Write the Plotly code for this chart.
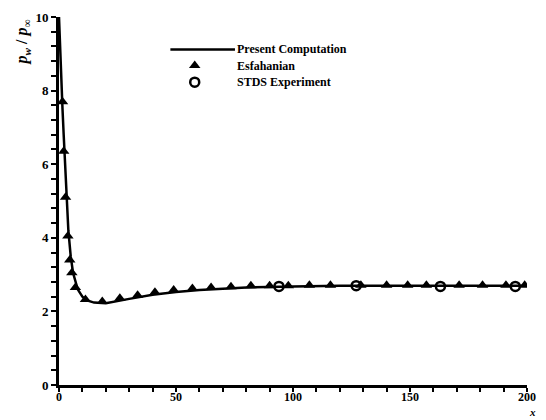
import plotly.graph_objects as go

# Present computation: wall pressure ratio along the surface
comp_x = [0, 0.5, 1, 1.5, 2, 3, 4, 5, 6, 8, 10, 12, 15, 20, 25, 30, 40, 50, 60, 70, 80, 100, 120, 150, 200]
comp_y = [10, 9.0, 8.2, 7.5, 6.8, 5.3, 4.2, 3.5, 3.05, 2.6, 2.4, 2.3, 2.24, 2.22, 2.27, 2.34, 2.45, 2.53, 2.58, 2.62, 2.65, 2.68, 2.7, 2.7, 2.7]

# Esfahanian
esf_x = [1.5, 2.0, 2.8, 3.8, 4.6, 5.5, 7.0, 11.3, 18.5, 26, 33.6, 41, 49, 57, 65, 73.5, 82, 90, 98, 107, 116, 129, 140, 149, 157, 171, 181, 191, 199]
esf_y = [7.7, 6.35, 5.1, 4.05, 3.4, 3.05, 2.65, 2.32, 2.27, 2.36, 2.44, 2.52, 2.58, 2.62, 2.65, 2.67, 2.7, 2.7, 2.7, 2.71, 2.71, 2.71, 2.71, 2.71, 2.71, 2.71, 2.71, 2.71, 2.71]

# STDS experiment
stds_x = [94, 127, 163, 195]
stds_y = [2.68, 2.7, 2.68, 2.68]

FONT = "Liberation Serif"

fig = go.Figure()
fig.add_trace(go.Scatter(x=comp_x, y=comp_y, mode="lines",
                         line=dict(color="black", width=2.5), showlegend=False))
fig.add_trace(go.Scatter(x=esf_x, y=esf_y, mode="markers",
                         marker=dict(symbol="triangle-up", size=10, color="black"),
                         showlegend=False))
fig.add_trace(go.Scatter(x=stds_x, y=stds_y, mode="markers",
                         marker=dict(symbol="circle-open", size=9, color="black",
                                     line=dict(width=2.5)),
                         showlegend=False))

# Legend key drawn on an overlay axis in unit coordinates
fig.add_trace(go.Scatter(x=[0.238, 0.376], y=[0.912, 0.912], mode="lines",
                         line=dict(color="black", width=2.5),
                         xaxis="x2", yaxis="y2", showlegend=False, hoverinfo="skip"))
fig.add_trace(go.Scatter(x=[0.29], y=[0.868], mode="markers",
                         marker=dict(symbol="triangle-up", size=10, color="black"),
                         xaxis="x2", yaxis="y2", showlegend=False, hoverinfo="skip"))
fig.add_trace(go.Scatter(x=[0.29], y=[0.823], mode="markers",
                         marker=dict(symbol="circle-open", size=9, color="black",
                                     line=dict(width=2.5)),
                         xaxis="x2", yaxis="y2", showlegend=False, hoverinfo="skip"))

legend_rows = [("Present Computation", 0.912), ("Esfahanian", 0.868), ("STDS Experiment", 0.823)]
annotations = []
for label, yy in legend_rows:
    annotations.append(dict(x=0.376, y=yy, xref="paper", yref="paper", text="<b>" + label + "</b>",
                            showarrow=False, xanchor="left", yanchor="middle",
                            font=dict(family=FONT, size=12, color="black")))

annotations.append(dict(x=-0.078, y=1.0, xref="paper", yref="paper",
                        text="<b><i>p<sub>w</sub></i> / <i>p<sub>∞</sub></i></b>",
                        textangle=-90, showarrow=False, xanchor="center", yanchor="top",
                        font=dict(family=FONT, size=16, color="black")))
annotations.append(dict(x=1.012, y=-0.094, xref="paper", yref="paper", text="<i><b>x</b></i>",
                        showarrow=False, xanchor="center", yanchor="bottom",
                        font=dict(family=FONT, size=11, color="black")))

fig.update_layout(
    width=546, height=420,
    margin=dict(l=59, r=11, t=10, b=35),
    paper_bgcolor="white", plot_bgcolor="white",
    font=dict(family=FONT, size=13, color="black"),
    annotations=annotations,
    xaxis=dict(range=[0, 200], tickvals=[0, 50, 100, 150, 200], ticks="outside",
               ticklen=4, tickwidth=2, tickcolor="black", ticklabelstandoff=-5,
               minor=dict(dtick=10, tick0=0, ticks="outside", ticklen=4, tickwidth=1.5, tickcolor="black"),
               showline=True, linecolor="black", linewidth=3, showgrid=False, zeroline=False,
               tickfont=dict(family=FONT, size=12, color="black", weight="bold")),
    yaxis=dict(range=[0, 10], tickvals=[0, 2, 4, 6, 8, 10], ticks="outside",
               ticklen=5, tickwidth=2, tickcolor="black",
               minor=dict(dtick=0.4, tick0=0, ticks="outside", ticklen=5, tickwidth=1.5, tickcolor="black"),
               showline=True, linecolor="black", linewidth=3, showgrid=False, zeroline=False,
               tickfont=dict(family=FONT, size=13, color="black", weight="bold")),
    xaxis2=dict(range=[0, 1], overlaying="x", visible=False, domain=[0, 1]),
    yaxis2=dict(range=[0, 1], overlaying="y", visible=False),
)

fig.write_html("out.html")
